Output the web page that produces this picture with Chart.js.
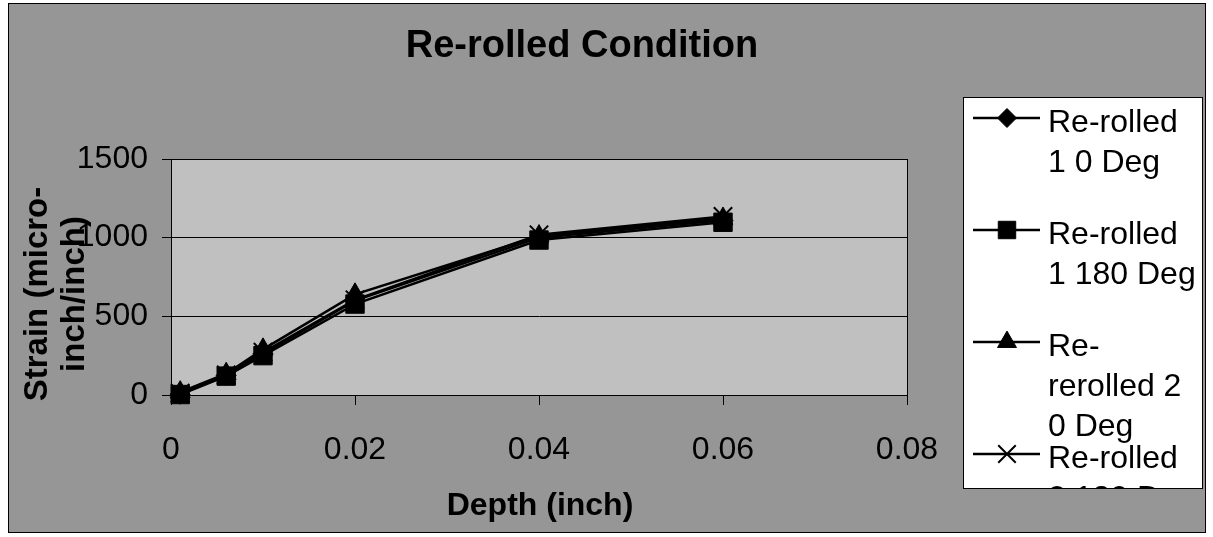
<!DOCTYPE html>
<html><head><meta charset="utf-8">
<script src="https://cdn.jsdelivr.net/npm/chart.js@4/dist/chart.umd.min.js"></script>
<style>html,body{margin:0;padding:0;background:#fff;}#wrap{position:relative;width:1213px;height:537px;}</style>
</head><body><div id="wrap"><canvas id="c" width="1213" height="537"></canvas></div>
<script>
const chartTitle = 'Re-rolled Condition';
const xAxisTitle = 'Depth (inch)';
const yAxisTitleLines = ['Strain (micro-', 'inch/inch)'];
const depths = [0.001, 0.006, 0.01, 0.02, 0.04, 0.06];
const seriesNames = ['Re-rolled 1 0 Deg', 'Re-rolled 1 180 Deg', 'Re-rerolled 2 0 Deg', 'Re-rolled 2 180 Deg'];
const legendLines = [['Re-rolled', '1 0 Deg'], ['Re-rolled', '1 180 Deg'], ['Re-', 'rerolled 2', '0 Deg'], ['Re-rolled', '2 180 Deg']];
const rerolled1_0 = [5, 125, 262, 600, 1000, 1110];
const rerolled1_180 = [3, 120, 250, 578, 985, 1098];
const rerolled2_0 = [18, 135, 290, 640, 1010, 1122];
const rerolled2_180 = [12, 128, 272, 605, 1018, 1135];
const xTickLabels = ['0', '0.02', '0.04', '0.06', '0.08'];
const yTickLabels = ['0', '500', '1000', '1500'];

const FONT = '"Liberation Sans", Arial, sans-serif';
const seriesValues = [rerolled1_0, rerolled1_180, rerolled2_0, rerolled2_180];
const pointStyles = ['rectRot', 'rect', 'triangle', 'crossRot'];
const pointRadii = [10, 13, 11.5, 13];

const datasets = seriesValues.map((vals, i) => ({
  label: seriesNames[i],
  data: depths.map((d, j) => ({x: d, y: vals[j]})),
  borderColor: '#000',
  backgroundColor: '#000',
  borderWidth: 2.5,
  pointStyle: pointStyles[i],
  pointRadius: pointRadii[i],
  pointBorderWidth: pointStyles[i] === 'crossRot' ? 2 : 1,
  pointBackgroundColor: '#000',
  pointBorderColor: '#000',
  tension: 0,
  clip: false
}));

const frame = {
  id: 'frame',
  beforeDraw(chart) {
    const ctx = chart.ctx, a = chart.chartArea;
    ctx.save();
    ctx.fillStyle = '#fff';
    ctx.fillRect(0, 0, chart.width, chart.height);
    ctx.fillStyle = '#969696';
    ctx.fillRect(8.5, 3.5, 1197, 529);
    ctx.strokeStyle = '#000'; ctx.lineWidth = 1;
    ctx.strokeRect(8.5, 3.5, 1197, 529);
    ctx.fillStyle = '#c0c0c0';
    ctx.fillRect(a.left, a.top, a.right - a.left, a.bottom - a.top);
    ctx.restore();
  },
  beforeDatasetsDraw(chart) {
    const ctx = chart.ctx, a = chart.chartArea;
    ctx.save();
    ctx.strokeStyle = '#000'; ctx.lineWidth = 1;
    ctx.strokeRect(Math.round(a.left) + 0.5, Math.round(a.top) + 0.5, Math.round(a.right - a.left), Math.round(a.bottom - a.top));
    ctx.restore();
  },
  afterDraw(chart) {
    const ctx = chart.ctx;
    ctx.save();
    ctx.fillStyle = '#000';
    // title
    ctx.font = 'bold 38px ' + FONT;
    ctx.textAlign = 'center'; ctx.textBaseline = 'alphabetic';
    ctx.fillText(chartTitle, 582, 57);
    // x axis title
    ctx.font = 'bold 32px ' + FONT;
    ctx.textBaseline = 'middle';
    ctx.fillText(xAxisTitle, 540, 506);
    // y axis title
    ctx.save();
    ctx.translate(0, 294);
    ctx.rotate(-Math.PI / 2);
    ctx.font = 'bold 33px ' + FONT;
    yAxisTitleLines.forEach((t, i) => ctx.fillText(t, 0, 38 + i * 37));
    ctx.restore();
    // legend
    const bx = 963.5, by = 97.5, bw = 239, bh = 391;
    ctx.fillStyle = '#fff';
    ctx.fillRect(bx, by, bw, bh);
    ctx.strokeStyle = '#000'; ctx.lineWidth = 1;
    ctx.strokeRect(bx, by, bw, bh);
    ctx.save();
    ctx.beginPath(); ctx.rect(bx + 0.5, by + 0.5, bw - 1, bh - 1); ctx.clip();
    ctx.font = '32px ' + FONT;
    ctx.textAlign = 'left'; ctx.textBaseline = 'alphabetic';
    chart.data.datasets.forEach((ds, i) => {
      const base = 132 + i * 112;
      const ly = base - 14;
      ctx.strokeStyle = '#000'; ctx.lineWidth = 2.5;
      ctx.beginPath(); ctx.moveTo(973, ly); ctx.lineTo(1040, ly); ctx.stroke();
      ctx.fillStyle = '#000'; ctx.strokeStyle = '#000';
      ctx.lineWidth = ds.pointBorderWidth;
      if (Chart.helpers && Chart.helpers.drawPoint) {
        Chart.helpers.drawPoint(ctx, {pointStyle: ds.pointStyle, radius: ds.pointRadius * 0.95, borderWidth: ds.pointBorderWidth, rotation: 0}, 1007, ly);
      }
      ctx.fillStyle = '#000';
      legendLines[i].forEach((t, k) => ctx.fillText(t, 1048, base + k * 40));
    });
    ctx.restore();
    ctx.restore();
  }
};

new Chart(document.getElementById('c'), {
  type: 'line',
  data: {datasets},
  plugins: [frame],
  options: {
    responsive: false,
    animation: false,
    devicePixelRatio: 1,
    layout: {padding: {top: 159, right: 306, left: 0, bottom: 0}},
    plugins: {legend: {display: false}, title: {display: false}, tooltip: {enabled: false}},
    scales: {
      x: {
        type: 'linear', min: 0, max: 0.08,
        afterFit(s) { s.height = 142; },
        ticks: {stepSize: 0.02, color: '#000', font: {family: FONT, size: 32}, padding: 26,
          callback: (v, i) => xTickLabels[i], maxRotation: 0, autoSkip: false},
        grid: {drawOnChartArea: false, drawTicks: true, tickLength: 10, color: '#000', lineWidth: 1},
        border: {display: true, color: '#000', width: 1}
      },
      y: {
        type: 'linear', min: 0, max: 1500,
        afterFit(s) { s.width = 171; },
        ticks: {stepSize: 500, color: '#000', font: {family: FONT, size: 32}, padding: 14,
          callback: (v, i) => yTickLabels[i]},
        grid: {drawOnChartArea: true, drawTicks: true, tickLength: 9, color: '#000', lineWidth: 1},
        border: {display: true, color: '#000', width: 1}
      }
    }
  }
});
</script></body></html>
